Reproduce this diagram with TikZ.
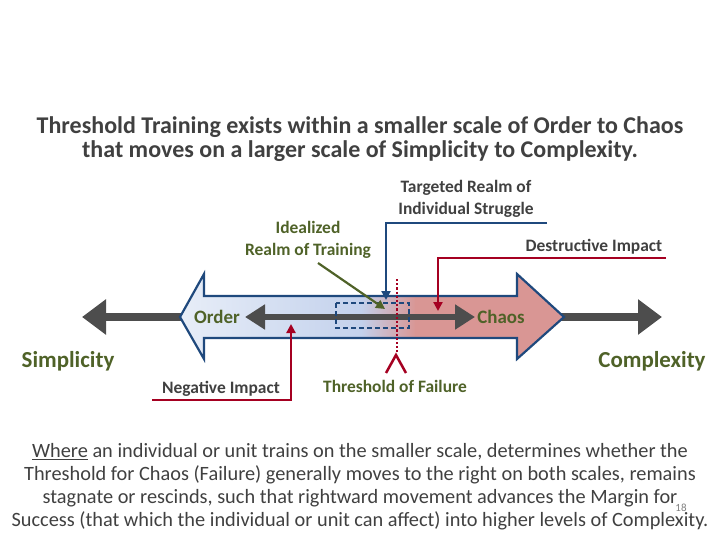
\documentclass[tikz,border=0pt]{standalone}
\usepackage{fontspec}
\setmainfont{Carlito}
\usetikzlibrary{arrows.meta}
\definecolor{tx}{HTML}{404040}
\definecolor{gr}{HTML}{4F6228}
\definecolor{bl}{HTML}{1F497D}
\definecolor{rd}{HTML}{A50021}
\definecolor{gy}{HTML}{4D4D4D}
\definecolor{lb1}{HTML}{E8EEF8}
\definecolor{lb2}{HTML}{C3D1EC}
\definecolor{pk}{HTML}{D99694}
\tikzset{lbl/.style={font=\fontsize{17.5}{22}\selectfont\bfseries,text=tx,align=center,inner sep=0pt},
glbl/.style={lbl,text=gr},
big/.style={font=\fontsize{24.1}{24}\selectfont\bfseries,text=tx,align=center,inner sep=0pt},
gbig/.style={big,text=gr},
ptr/.style={line width=2.2pt,-{Triangle[length=9bp,width=9bp]}}}
\begin{document}
\begin{tikzpicture}[x=1bp,y=-1bp]
\useasboundingbox (0,0) rectangle (720,540);
\node[big] (t1) at (360,127) {Threshold Training exists within a smaller scale of Order to Chaos};
\node[big] (t2) at (360,151) {that moves on a larger scale of Simplicity to Complexity.};
% outer gray arrow
\coordinate (ol) at (82,317); \coordinate (or) at (662,317);
\draw[gy,line width=8bp,{Triangle[length=24bp,width=34bp]}-{Triangle[length=24bp,width=34bp]}] (ol) -- (or);
% big double arrow
\begin{scope}
\clip (180,317) -- (204,274) -- (204,296) -- (517,296) -- (517,274) -- (564,317) -- (517,359) -- (517,338) -- (204,338) -- (204,359) -- cycle;
\shade[left color=lb1,right color=lb2] (178,270) rectangle (362,362);
\shade[left color=lb2,right color=pk] (361,270) rectangle (416,362);
\fill[pk] (415,270) rectangle (566,362);
\end{scope}
\draw[bl,line width=2.2bp,line join=miter] (180,317) -- (204,274) -- (204,296) -- (517,296) -- (517,274) -- (564,317) -- (517,359) -- (517,338) -- (204,338) -- (204,359) -- cycle;
% inner arrow
\coordinate (il) at (245,317); \coordinate (ir) at (475,317);
\draw[gy,line width=5.5bp,{Triangle[length=20bp,width=24bp]}-{Triangle[length=20bp,width=24bp]}] (il) -- (ir);
\node[gbig,font=\fontsize{19}{20}\selectfont\bfseries] (order) at (217,317) {Order};
\node[gbig,font=\fontsize{19}{20}\selectfont\bfseries] (chaos) at (501,317) {Chaos};
\node[gbig,font=\fontsize{23}{24}\selectfont\bfseries] (simp) at (68,361) {Simplicity};
\node[gbig,font=\fontsize{23}{24}\selectfont\bfseries] (comp) at (652,361) {Complexity};
% dashed box
\draw[bl,line width=2bp,dash pattern=on 5bp off 3bp] (336,303) rectangle (409,328);
% threshold
\draw[rd,line width=2.2bp,dotted] (397,279) -- (397,353);
\coordinate (va) at (396,355);
\draw[rd,line width=2.5bp] (386,373) -- (va) -- (406,373);
\node[glbl] (thr) at (395,386) {Threshold of Failure};
% labels and pointers
\node[lbl] (targ) at (466,199) {Targeted Realm of\\Individual Struggle};
\coordinate (tb) at (547,223); \coordinate (tk) at (386,223); \coordinate (te) at (386,300);
\draw[bl,ptr] (tb) -- (tk) -- (te);
\node[glbl] (ideal) at (308,240) {Idealized\\Realm of Training};
\coordinate (ia) at (318,263); \coordinate (ie) at (385,309);
\draw[gr,ptr] (ia) -- (ie);
\node[lbl] (dest) at (594,247) {Destructive Impact};
\coordinate (db) at (666,258); \coordinate (dk) at (438,258); \coordinate (de) at (438,311);
\draw[rd,ptr] (db) -- (dk) -- (de);
\node[lbl] (neg) at (221,389) {Negative Impact};
\coordinate (nb) at (152,400); \coordinate (nk) at (291,400); \coordinate (ne) at (291,324);
\draw[rd,ptr] (nb) -- (nk) -- (ne);
% bottom paragraph
\node[big,font=\fontsize{20.4}{23}\selectfont] (p) at (360,487) {\underline{Where} an individual or unit trains on the smaller scale, determines whether the\\Threshold for Chaos (Failure) generally moves to the right on both scales, remains\\stagnate or rescinds, such that rightward movement advances the Margin for\\Success (that which the individual or unit can affect) into higher levels of Complexity.};
\node[text=gray,font=\fontsize{11}{11}\selectfont,inner sep=0pt] (pg) at (681,508) {18};
\end{tikzpicture}
\end{document}
